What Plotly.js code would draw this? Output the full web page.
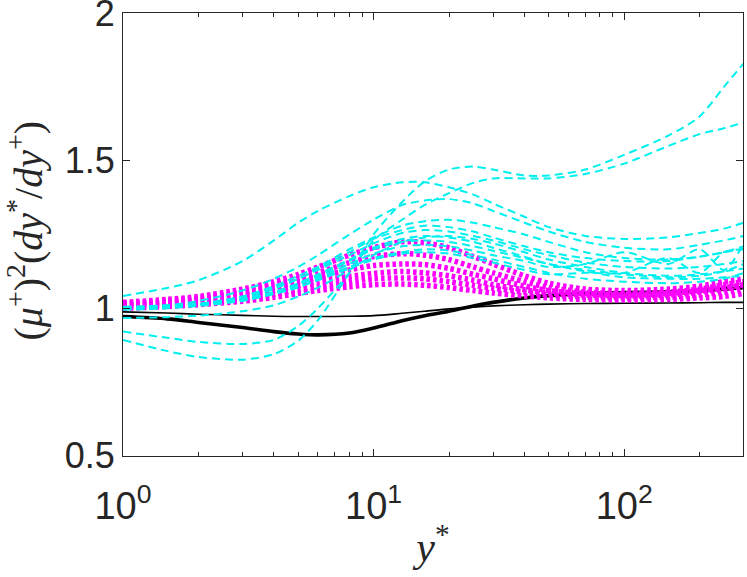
<!DOCTYPE html>
<html>
<head>
<meta charset="utf-8">
<script src="https://cdn.plot.ly/plotly-3.0.1.min.js"></script>
<style>html,body{margin:0;padding:0;background:#fff;}#chart{width:747px;height:577px;}</style>
</head>
<body>
<div id="chart"></div>
<script>
// shared y* sample positions
var yStar = [1,1.5,2,3,4,5,6,8,10,13,16,20,25,30,40,50,70,100,150,200,250,300];

// cyan dashed curves
var cyanA  = [1.042,1.069,1.095,1.16,1.23,1.29,1.33,1.38,1.41,1.427,1.427,1.41,1.385,1.355,1.31,1.275,1.245,1.235,1.24,1.255,1.27,1.29];
var cyanB  = [1.0,1.01,1.025,1.06,1.1,1.14,1.18,1.25,1.3,1.35,1.365,1.37,1.355,1.33,1.29,1.26,1.225,1.205,1.2,1.215,1.23,1.245];
var cyanC1 = [0.893,0.855,0.835,0.826,0.845,0.89,0.96,1.12,1.25,1.36,1.43,1.47,1.48,1.47,1.45,1.45,1.47,1.52,1.585,1.65,1.75,1.83];
var cyanC2 = [0.921,0.9,0.886,0.879,0.893,0.94,1.0,1.12,1.23,1.3,1.35,1.39,1.425,1.44,1.44,1.44,1.455,1.49,1.55,1.59,1.61,1.63];
var cyanD  = [0.995,1.0,1.01,1.04,1.075,1.11,1.14,1.2,1.24,1.28,1.295,1.3,1.29,1.275,1.25,1.225,1.19,1.17,1.165,1.175,1.19,1.2];
var cyanE  = [1.0,1.005,1.015,1.04,1.07,1.1,1.13,1.18,1.22,1.255,1.265,1.26,1.245,1.23,1.2,1.18,1.155,1.14,1.135,1.14,1.15,1.16];
var cyanF  = [0.967,0.97,0.975,0.99,1.01,1.04,1.07,1.13,1.18,1.225,1.24,1.245,1.235,1.22,1.19,1.165,1.14,1.12,1.11,1.115,1.125,1.135];
var cyanG  = [1.0,1.002,1.008,1.025,1.05,1.08,1.11,1.16,1.2,1.225,1.23,1.225,1.21,1.195,1.17,1.15,1.125,1.105,1.1,1.1,1.105,1.11];
var cyanH  = [1.005,1.01,1.015,1.03,1.05,1.07,1.1,1.14,1.17,1.19,1.2,1.195,1.18,1.165,1.14,1.12,1.1,1.09,1.085,1.09,1.1,1.12];
var cyanI  = [1.003,1.008,1.014,1.03,1.055,1.08,1.105,1.15,1.185,1.21,1.215,1.21,1.195,1.18,1.16,1.14,1.15,1.19,1.15,1.2,1.13,1.22];
var cyanJ  = [0.998,1.003,1.01,1.027,1.048,1.072,1.095,1.135,1.165,1.185,1.19,1.185,1.17,1.155,1.13,1.115,1.12,1.12,1.17,1.12,1.19,1.2];
var cyanK  = [1.002,1.006,1.012,1.035,1.065,1.1,1.135,1.19,1.235,1.265,1.28,1.275,1.26,1.24,1.21,1.19,1.17,1.16,1.16,1.175,1.19,1.21];
var cyanM  = [0.998,1.003,1.01,1.03,1.055,1.085,1.115,1.165,1.205,1.235,1.245,1.24,1.225,1.205,1.175,1.15,1.13,1.115,1.105,1.11,1.125,1.15];

// magenta dotted curves
var magenta1 = [1.02,1.03,1.04,1.065,1.09,1.115,1.14,1.18,1.205,1.225,1.222,1.205,1.175,1.15,1.11,1.085,1.065,1.06,1.065,1.075,1.09,1.1];
var magenta2 = [1.015,1.025,1.035,1.055,1.08,1.1,1.12,1.155,1.175,1.185,1.18,1.165,1.14,1.12,1.09,1.07,1.055,1.05,1.055,1.065,1.08,1.09];
var magenta3 = [1.015,1.022,1.03,1.05,1.07,1.09,1.105,1.13,1.145,1.15,1.148,1.135,1.115,1.1,1.075,1.06,1.05,1.045,1.05,1.06,1.07,1.08];
var magenta4 = [1.01,1.018,1.025,1.042,1.06,1.077,1.09,1.108,1.118,1.125,1.12,1.11,1.095,1.08,1.063,1.052,1.045,1.042,1.045,1.055,1.065,1.075];
var magenta5 = [1.005,1.012,1.018,1.032,1.047,1.062,1.074,1.09,1.1,1.103,1.1,1.09,1.078,1.068,1.055,1.045,1.038,1.035,1.038,1.045,1.055,1.065];
var magenta6 = [1.0,1.006,1.012,1.024,1.037,1.05,1.06,1.073,1.08,1.082,1.078,1.07,1.06,1.052,1.042,1.035,1.03,1.028,1.03,1.035,1.04,1.05];

// black solid curves
var blackThin  = [0.988,0.984,0.98,0.976,0.973,0.972,0.972,0.973,0.975,0.983,0.99,0.998,1.004,1.008,1.012,1.014,1.016,1.017,1.018,1.019,1.02,1.02];
var blackThick = [0.972,0.964,0.952,0.935,0.921,0.913,0.91,0.916,0.933,0.958,0.975,0.99,1.008,1.02,1.035,1.043,1.05,1.053,1.056,1.06,1.065,1.07];

// axis ticks and titles
var xTickVals = [1,10,100];
var xTickText = ['10<sup>0</sup>','10<sup>1</sup>','10<sup>2</sup>'];
var xMinorVals = [2,3,4,5,6,7,8,9,20,30,40,50,60,70,80,90,200,300];
var yTickVals = [0.5,1,1.5,2];
var yTickText = ['0.5','1','1.5','2'];
var xTitle = '<i>y</i><sup>*</sup>';
var yTitle = '(<i>μ</i><sup>+</sup>)<sup>2</sup>(<i>dy</i><sup>*</sup>/<i>dy</i><sup>+</sup>)';

var traces = [];
function add(ys, color, width, dash) {
  traces.push({x: yStar, y: ys, type: 'scatter', mode: 'lines',
    line: {color: color, width: width, dash: dash, shape: 'spline', smoothing: 0.8},
    hoverinfo: 'skip', showlegend: false, cliponaxis: true});
}
add(blackThin, '#000000', 1.6, 'solid');
add(blackThick, '#000000', 3.6, 'solid');
[magenta1, magenta2, magenta3, magenta4, magenta5, magenta6].forEach(function(m){ add(m, '#ff00ff', 5.5, '3.5px,3px'); });
[cyanA, cyanB, cyanC1, cyanC2, cyanD, cyanE, cyanF, cyanG, cyanH, cyanI, cyanJ, cyanK, cyanM].forEach(function(c){ add(c, '#00f0f0', 2, '8px,5px'); });

var axisColor = '#262626';
var layout = {
  width: 747, height: 577,
  margin: {l: 123, r: 4, t: 13, b: 121},
  paper_bgcolor: '#ffffff', plot_bgcolor: '#ffffff',
  showlegend: false,
  xaxis: {
    type: 'log', range: [0, Math.log10(298)],
    tickmode: 'array', tickvals: xTickVals, ticktext: xTickText,
    ticks: 'inside', ticklen: 7, tickwidth: 1, tickcolor: axisColor,
    minor: {tickmode: 'array', tickvals: xMinorVals, ticks: 'inside', ticklen: 4, tickwidth: 1, tickcolor: axisColor, showgrid: false},
    showline: true, linecolor: axisColor, linewidth: 1, mirror: 'ticks',
    showgrid: false, zeroline: false,
    ticklabelstandoff: 16, ticklabeloverflow: 'allow',
    tickfont: {family: 'Liberation Sans, Arial, sans-serif', size: 38, color: axisColor},
    title: {text: xTitle, standoff: 6,
      font: {family: 'Liberation Serif, Times New Roman, serif', size: 42, color: axisColor}}
  },
  yaxis: {
    range: [0.4995, 2.0005],
    tickmode: 'array', tickvals: yTickVals, ticktext: yTickText,
    ticks: 'inside', ticklen: 7, tickwidth: 1, tickcolor: axisColor,
    showline: true, linecolor: axisColor, linewidth: 1, mirror: 'ticks',
    showgrid: false, zeroline: false,
    ticklabeloverflow: 'allow',
    tickfont: {family: 'Liberation Sans, Arial, sans-serif', size: 36, color: axisColor}
  },
  annotations: [{
    text: yTitle, textangle: -90, showarrow: false,
    xref: 'paper', yref: 'paper', x: 0, y: 0.5,
    xanchor: 'center', yanchor: 'middle', xshift: -97, yshift: 4,
    font: {family: 'Liberation Serif, Times New Roman, serif', size: 40, color: axisColor}
  }]
};
Plotly.newPlot('chart', traces, layout, {displayModeBar: false, staticPlot: true});
</script>
</body>
</html>
